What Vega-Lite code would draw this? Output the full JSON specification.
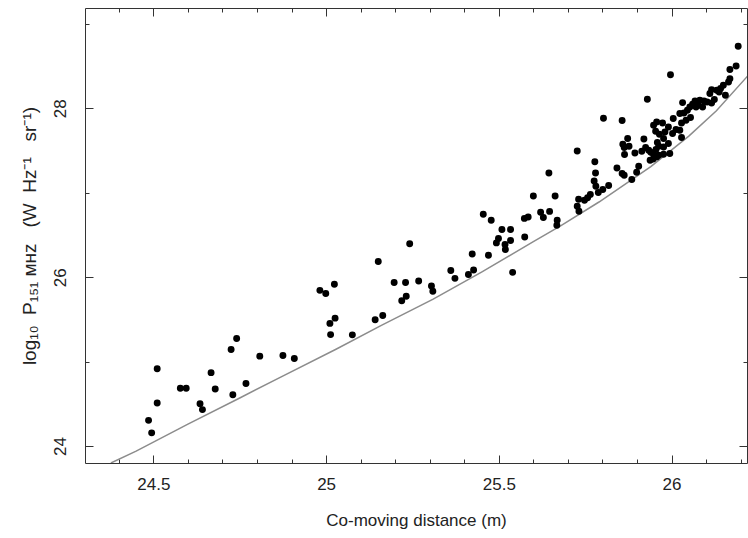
{
"$schema":"https://vega.github.io/schema/vega-lite/v6.json",
"width":662,"height":455,
"autosize":{"type":"none"},
"padding":{"left":85,"top":8,"right":1,"bottom":75},
"background":"white",
"config":{"view":{"stroke":null},
 "axis":{"domainColor":"#333","domainWidth":1,"tickColor":"#333","tickWidth":1,"grid":false,
  "labelFont":"Liberation Sans","labelFontSize":17,"labelColor":"#222",
  "titleFont":"Liberation Sans","titleFontSize":17,"titleColor":"#222","titleFontWeight":"normal"}},
"datasets":{
"curve":[
{"dist":24.377,"logP":23.80},{"dist":24.45,"logP":23.94},{"dist":24.60,"logP":24.26},{"dist":24.75,"logP":24.57},
{"dist":24.87,"logP":24.82},{"dist":25.03,"logP":25.15},{"dist":25.16,"logP":25.43},{"dist":25.31,"logP":25.74},
{"dist":25.45,"logP":26.06},{"dist":25.60,"logP":26.42},{"dist":25.68,"logP":26.61},{"dist":25.79,"logP":26.89},
{"dist":25.94,"logP":27.31},{"dist":26.05,"logP":27.67},{"dist":26.13,"logP":27.97},{"dist":26.22,"logP":28.38}],
"points":[
{"dist":24.486,"logP":24.305},{"dist":24.495,"logP":24.157},{"dist":24.511,"logP":24.511},{"dist":24.511,"logP":24.915},
{"dist":24.578,"logP":24.686},{"dist":24.595,"logP":24.686},{"dist":24.635,"logP":24.501},{"dist":24.642,"logP":24.432},
{"dist":24.667,"logP":24.870},{"dist":24.679,"logP":24.677},{"dist":24.725,"logP":25.144},{"dist":24.741,"logP":25.275},
{"dist":24.730,"logP":24.609},{"dist":24.768,"logP":24.742},{"dist":24.808,"logP":25.065},{"dist":24.875,"logP":25.073},
{"dist":24.908,"logP":25.038},{"dist":24.982,"logP":25.844},{"dist":24.999,"logP":25.807},{"dist":25.024,"logP":25.917},
{"dist":25.011,"logP":25.453},{"dist":25.026,"logP":25.515},{"dist":25.013,"logP":25.320},{"dist":25.076,"logP":25.317},
{"dist":25.142,"logP":25.495},{"dist":25.164,"logP":25.547},{"dist":25.151,"logP":26.186},{"dist":25.197,"logP":25.938},
{"dist":25.230,"logP":25.938},{"dist":25.219,"logP":25.722},{"dist":25.232,"logP":25.775},{"dist":25.268,"logP":25.955},
{"dist":25.242,"logP":26.396},{"dist":25.305,"logP":25.897},{"dist":25.309,"logP":25.834},{"dist":25.361,"logP":26.079},
{"dist":25.373,"logP":25.986},{"dist":25.412,"logP":26.032},{"dist":25.427,"logP":26.085},{"dist":25.423,"logP":26.275},
{"dist":25.470,"logP":26.260},{"dist":25.455,"logP":26.746},{"dist":25.478,"logP":26.675},{"dist":25.509,"logP":26.564},
{"dist":25.534,"logP":26.564},{"dist":25.499,"logP":26.458},{"dist":25.493,"logP":26.406},{"dist":25.518,"logP":26.387},
{"dist":25.519,"logP":26.328},{"dist":25.534,"logP":26.434},{"dist":25.540,"logP":26.057},{"dist":25.575,"logP":26.476},
{"dist":25.574,"logP":26.696},{"dist":25.585,"logP":26.712},{"dist":25.600,"logP":26.962},{"dist":25.621,"logP":26.769},
{"dist":25.629,"logP":26.707},{"dist":25.647,"logP":26.779},{"dist":25.663,"logP":26.962},{"dist":25.645,"logP":27.234},
{"dist":25.669,"logP":26.675},{"dist":25.668,"logP":26.615},{"dist":25.727,"logP":27.493},{"dist":25.778,"logP":27.367},
{"dist":25.780,"logP":27.233},{"dist":25.776,"logP":27.140},{"dist":25.781,"logP":27.077},{"dist":25.788,"logP":27.002},
{"dist":25.801,"logP":27.038},{"dist":25.765,"logP":26.980},{"dist":25.757,"logP":26.941},{"dist":25.748,"logP":26.911},
{"dist":25.731,"logP":26.923},{"dist":25.727,"logP":26.840},{"dist":25.732,"logP":26.781},{"dist":25.818,"logP":27.085},
{"dist":25.803,"logP":27.882},{"dist":25.857,"logP":27.856},{"dist":25.930,"logP":28.107},{"dist":25.842,"logP":27.293},
{"dist":25.857,"logP":27.227},{"dist":25.863,"logP":27.207},{"dist":25.885,"logP":27.156},{"dist":25.899,"logP":27.243},
{"dist":25.905,"logP":27.314},{"dist":25.873,"logP":27.641},{"dist":25.859,"logP":27.574},{"dist":25.863,"logP":27.535},
{"dist":25.864,"logP":27.452},{"dist":25.877,"logP":27.550},{"dist":25.894,"logP":27.471},{"dist":25.914,"logP":27.491},
{"dist":25.920,"logP":27.637},{"dist":25.925,"logP":27.535},{"dist":25.934,"logP":27.503},{"dist":25.940,"logP":27.479},
{"dist":25.955,"logP":27.511},{"dist":25.948,"logP":27.799},{"dist":25.954,"logP":27.728},{"dist":25.959,"logP":27.594},
{"dist":25.938,"logP":27.385},{"dist":25.947,"logP":27.400},{"dist":25.957,"logP":27.424},{"dist":26.193,"logP":28.734},
{"dist":26.187,"logP":28.501},{"dist":26.169,"logP":28.459},{"dist":26.169,"logP":28.349},{"dist":26.165,"logP":28.311},
{"dist":25.997,"logP":28.396},{"dist":26.150,"logP":28.272},{"dist":26.142,"logP":28.233},{"dist":26.156,"logP":28.154},
{"dist":26.138,"logP":28.193},{"dist":26.131,"logP":28.213},{"dist":26.116,"logP":28.221},{"dist":26.111,"logP":28.174},
{"dist":26.124,"logP":28.103},{"dist":26.116,"logP":28.063},{"dist":26.103,"logP":28.075},{"dist":26.094,"logP":28.086},
{"dist":26.082,"logP":28.095},{"dist":26.068,"logP":28.086},{"dist":26.077,"logP":28.036},{"dist":26.090,"logP":28.015},
{"dist":26.071,"logP":28.015},{"dist":26.061,"logP":28.047},{"dist":26.053,"logP":28.015},{"dist":26.032,"logP":28.067},
{"dist":26.046,"logP":27.976},{"dist":26.036,"logP":27.944},{"dist":26.024,"logP":27.937},{"dist":26.005,"logP":27.878},
{"dist":26.055,"logP":27.890},{"dist":26.042,"logP":27.858},{"dist":26.029,"logP":27.826},{"dist":26.013,"logP":27.748},
{"dist":26.024,"logP":27.740},{"dist":26.029,"logP":27.653},{"dist":26.003,"logP":27.701},{"dist":25.991,"logP":27.779},
{"dist":25.981,"logP":27.720},{"dist":25.974,"logP":27.826},{"dist":25.957,"logP":27.838},{"dist":25.965,"logP":27.692},
{"dist":25.977,"logP":27.641},{"dist":25.991,"logP":27.582},{"dist":25.977,"logP":27.542},{"dist":25.963,"logP":27.550},
{"dist":25.947,"logP":27.464},{"dist":25.963,"logP":27.444},{"dist":25.977,"logP":27.456},{"dist":25.995,"logP":27.464}]
},
"layer":[
{"data":{"name":"curve"},
 "mark":{"type":"line","color":"#8c8c8c","strokeWidth":1.5,"clip":true},
 "encoding":{
  "x":{"field":"dist","type":"quantitative","scale":{"domain":[24.302,26.2185],"nice":false,"zero":false},
   "axis":{"orient":"top","values":[24.4,24.5,24.6,24.7,24.8,24.9,25,25.1,25.2,25.3,25.4,25.5,25.6,25.7,25.8,25.9,26,26.1,26.2],
    "labels":false,"title":null,
    "tickSize":{"condition":{"test":"abs(datum.value*2-round(datum.value*2))<0.01","value":-8},"value":-4}}},
  "y":{"field":"logP","type":"quantitative","scale":{"domain":[23.8,29.187],"nice":false,"zero":false},
   "axis":{"orient":"right","values":[24,25,26,27,28,29],"labels":false,"title":null,
    "tickSize":{"condition":{"test":"datum.value%2==0","value":-8},"value":-4}}}}},
{"data":{"name":"points"},
 "mark":{"type":"circle","color":"#000","opacity":1,"size":48},
 "encoding":{
  "x":{"field":"dist","type":"quantitative","scale":{"domain":[24.302,26.2185],"nice":false,"zero":false},
   "axis":{"orient":"bottom","values":[24.4,24.5,24.6,24.7,24.8,24.9,25,25.1,25.2,25.3,25.4,25.5,25.6,25.7,25.8,25.9,26,26.1,26.2],
    "labelExpr":"abs(datum.value*2-round(datum.value*2))<0.01 ? format(datum.value,'~g') : ''",
    "labelPadding":21,"title":"Co-moving distance (m)","titlePadding":20,
    "tickSize":{"condition":{"test":"abs(datum.value*2-round(datum.value*2))<0.01","value":-8},"value":-4}}},
  "y":{"field":"logP","type":"quantitative","scale":{"domain":[23.8,29.187],"nice":false,"zero":false},
   "axis":{"orient":"left","values":[24,25,26,27,28,29],
    "labelExpr":"datum.value%2==0 ? format(datum.value,'d') : ''",
    "labelAngle":-90,"labelAlign":"center","labelBaseline":"bottom","labelPadding":24,
    "title":"log₁₀\u00a0\u00a0P₁₅₁\u00a0ᴍʜᴢ\u00a0\u00a0\u00a0(W\u00a0\u00a0Hz⁻¹\u00a0\u00a0\u00a0sr⁻¹)","titleFontSize":19,"titlePadding":12,
    "tickSize":{"condition":{"test":"datum.value%2==0","value":-8},"value":-4}}}}}
],
"resolve":{"axis":{"x":"independent","y":"independent"}}
}
